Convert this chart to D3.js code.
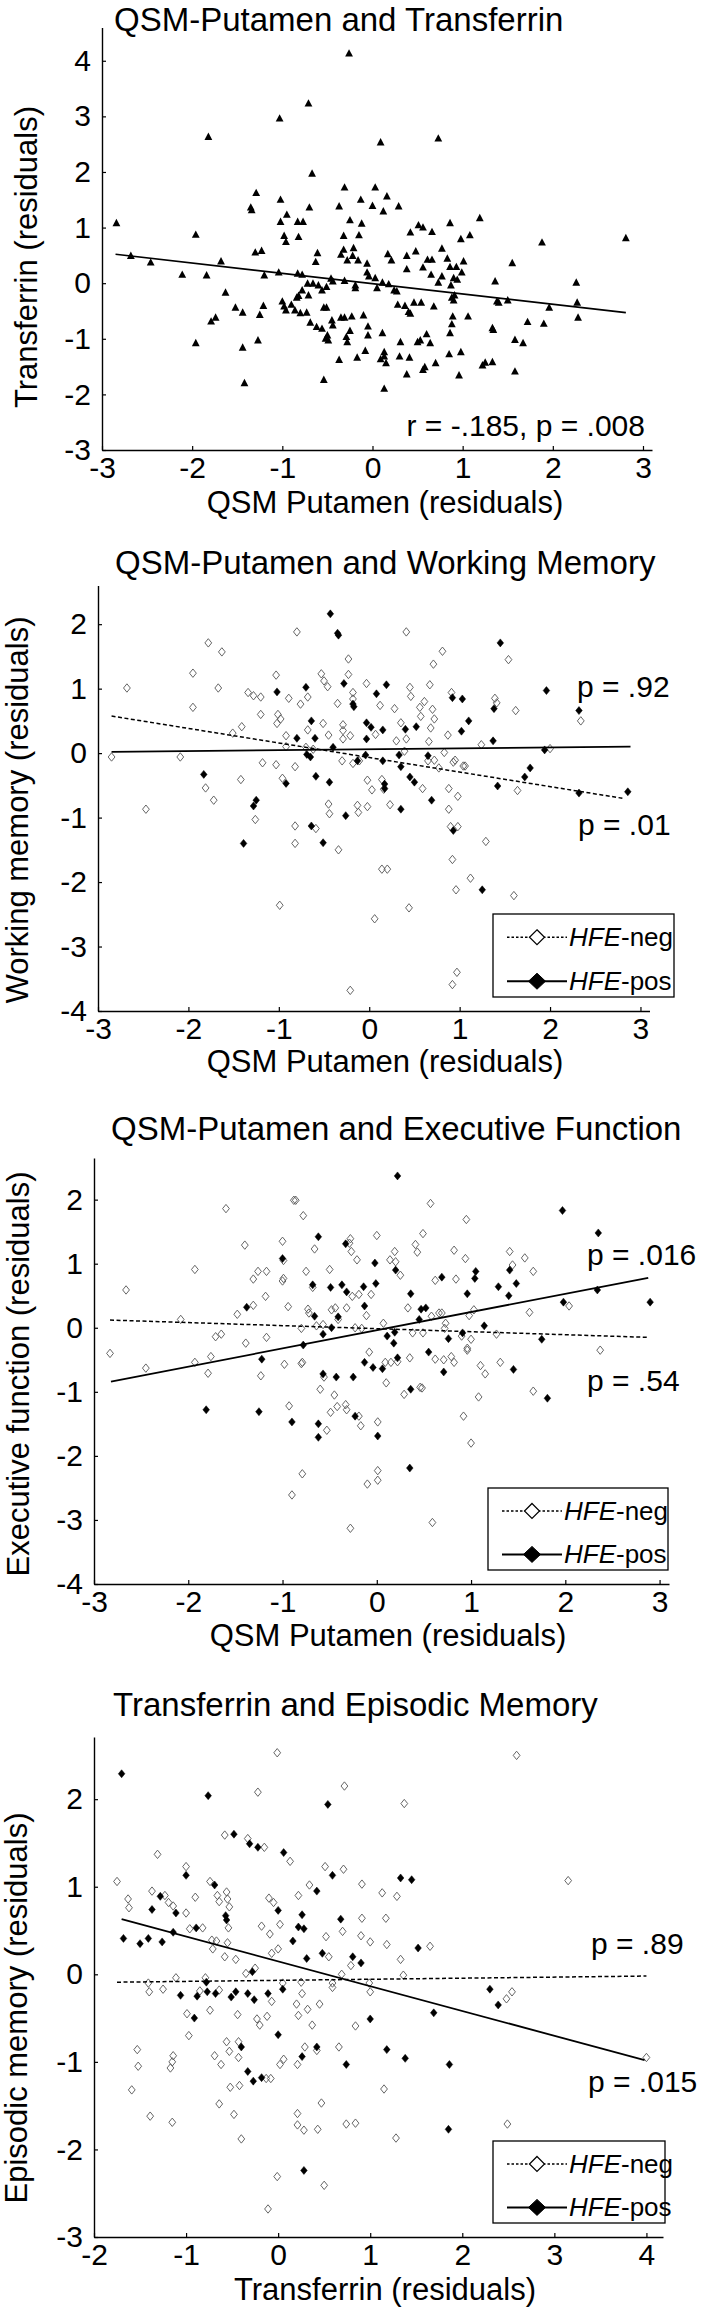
<!DOCTYPE html>
<html><head><meta charset="utf-8">
<script src="https://cdn.jsdelivr.net/npm/d3@7"></script>
<style>body{margin:0;background:#fff}svg{display:block}</style>
</head><body>
<script>
// ---------------- DATA ----------------
const xTicksQSM = [-3,-2,-1,0,1,2,3];
const xTicksTf = [-2,-1,0,1,2,3,4];
const yTicksP1 = [-3,-2,-1,0,1,2,3,4];
const yTicksP2 = [-4,-3,-2,-1,0,1,2];
const yTicksP3 = [-4,-3,-2,-1,0,1,2];
const yTicksP4 = [-3,-2,-1,0,1,2];

// Panel 1: QSM putamen vs transferrin
const tfPoints = [[-0.26,4.13],[-0.71,3.23],[-1.03,2.96],[-1.82,2.63],[0.73,2.60],[0.09,2.53],[-0.67,1.97],[-0.31,1.72],[0.03,1.72],[-1.29,1.62],[0.16,1.56],[-1.02,1.50],[-0.13,1.50],[-1.35,1.36],[-1.34,1.31],[-0.70,1.36],[-0.37,1.38],[0.00,1.39],[0.29,1.38],[0.12,1.29],[-0.95,1.23],[1.19,1.17],[-1.02,1.10],[-0.83,1.10],[-0.77,1.10],[-0.25,1.13],[-0.12,1.07],[0.86,1.08],[-2.84,1.08],[0.51,1.04],[0.56,1.00],[0.66,0.92],[0.42,0.91],[-1.96,0.87],[-0.98,0.85],[-0.96,0.74],[-0.82,0.83],[-0.32,0.85],[-0.15,0.86],[1.08,0.86],[0.98,0.79],[1.88,0.73],[2.81,0.81],[-0.21,0.63],[-0.32,0.60],[-1.23,0.58],[-1.30,0.55],[0.77,0.62],[-0.61,0.54],[-0.63,0.38],[0.48,0.57],[-0.35,0.51],[-0.28,0.41],[0.17,0.52],[0.38,0.49],[-0.22,0.49],[0.21,0.41],[0.61,0.42],[0.66,0.42],[0.83,0.44],[1.01,0.39],[-0.06,0.35],[-0.16,0.41],[-2.68,0.49],[-2.46,0.37],[-1.68,0.39],[1.55,0.36],[0.56,0.28],[0.86,0.29],[0.93,0.29],[0.38,0.25],[0.99,0.19],[-2.11,0.15],[-1.84,0.14],[-1.20,0.14],[-1.04,0.19],[-0.83,0.17],[-0.78,0.15],[-0.06,0.19],[-0.04,0.12],[0.65,0.15],[0.77,0.12],[0.90,0.09],[0.94,0.06],[-0.46,0.08],[-0.44,0.03],[-0.31,0.04],[0.03,0.09],[0.11,0.01],[0.18,-0.02],[0.73,0.01],[1.36,0.03],[2.26,0.01],[-0.72,-0.01],[-0.66,-0.01],[-0.60,-0.04],[-0.56,-0.13],[-0.51,-0.07],[-0.19,-0.04],[-0.19,-0.09],[0.05,-0.09],[0.87,-0.04],[0.24,-0.13],[0.27,-0.15],[-1.63,-0.17],[-0.78,-0.13],[-0.82,-0.23],[-0.84,-0.26],[-0.71,-0.22],[0.91,-0.22],[0.88,-0.26],[0.90,-0.31],[1.38,-0.33],[1.40,-0.35],[1.50,-0.31],[2.27,-0.35],[-1.00,-0.33],[-0.98,-0.42],[-0.90,-0.39],[-0.96,-0.49],[-0.86,-0.49],[-0.80,-0.54],[0.28,-0.39],[0.36,-0.41],[0.46,-0.35],[0.54,-0.35],[0.40,-0.52],[0.42,-0.55],[0.68,-0.42],[-1.21,-0.41],[-1.25,-0.57],[-1.52,-0.44],[-1.44,-0.53],[-0.73,-0.53],[-0.54,-0.44],[-0.51,-0.44],[-0.10,-0.58],[-0.35,-0.62],[-0.31,-0.62],[-0.23,-0.60],[1.96,-0.44],[1.06,-0.60],[2.28,-0.62],[-1.74,-0.62],[-1.79,-0.69],[-0.45,-0.67],[-0.44,-0.76],[1.72,-0.70],[1.90,-0.73],[-0.69,-0.71],[0.88,-0.74],[0.89,-0.60],[-0.62,-0.79],[-0.56,-0.82],[-0.05,-0.78],[-0.05,-0.94],[-0.25,-0.86],[0.11,-0.90],[1.33,-0.81],[1.34,-0.84],[0.60,-0.92],[0.86,-0.90],[-0.50,-0.94],[-0.52,-1.00],[-0.49,-1.03],[-0.29,-0.97],[-0.28,-1.06],[0.53,-1.03],[0.50,-1.06],[0.31,-1.06],[0.64,-1.08],[1.58,-1.02],[1.67,-1.08],[-1.96,-1.08],[-1.27,-1.03],[-1.44,-1.16],[-0.08,-1.22],[0.13,-1.24],[0.13,-1.32],[0.98,-1.24],[0.85,-1.28],[-0.17,-1.34],[0.30,-1.32],[0.41,-1.34],[0.09,-1.37],[0.15,-1.44],[-0.37,-1.38],[1.22,-1.48],[1.25,-1.43],[1.33,-1.42],[0.70,-1.44],[0.58,-1.51],[0.56,-1.56],[0.38,-1.64],[1.58,-1.59],[0.96,-1.66],[-0.54,-1.74],[-1.42,-1.80],[0.13,-1.90]];
const tfFit = [[-2.85,0.52],[2.81,-0.53]];

// Panel 2: QSM putamen vs working memory
const wmNeg = [[-2.85,-0.06],[-2.68,1.01],[-2.09,-0.06],[-1.95,1.24],[-1.95,0.71],[-1.78,1.71],[-1.63,1.57],[-1.67,1.01],[-1.81,-0.54],[-1.72,-0.73],[-2.47,-0.87],[-1.51,0.31],[-1.41,0.41],[-1.34,0.94],[-1.28,0.89],[-1.20,0.87],[-1.20,0.60],[-1.18,-0.15],[-1.42,-0.41],[-1.26,-1.03],[-1.03,1.21],[-1.01,0.60],[-1.02,0.46],[-1.03,-0.18],[-0.99,-2.36],[-0.98,0.53],[-0.92,0.27],[-0.92,0.10],[-0.96,-0.39],[-0.89,0.85],[-0.80,1.88],[-0.82,-0.21],[-0.82,-1.13],[-0.82,-1.40],[-0.76,0.76],[-0.68,0.87],[-0.68,0.36],[-0.70,0.09],[-0.62,0.06],[-0.59,-1.17],[-0.53,1.23],[-0.51,0.46],[-0.50,1.12],[-0.46,1.03],[-0.45,0.28],[-0.45,-0.79],[-0.44,-0.94],[-0.34,-1.50],[-0.35,0.77],[-0.29,0.44],[-0.29,0.35],[-0.29,0.22],[-0.30,-0.12],[-0.23,1.46],[-0.23,1.22],[-0.18,0.94],[-0.18,0.84],[-0.21,0.27],[-0.18,-0.16],[-0.13,-0.81],[-0.12,-0.92],[-0.11,-0.12],[-0.03,1.08],[-0.02,-0.42],[-0.02,-0.83],[0.03,-0.57],[0.07,0.29],[0.12,0.74],[0.14,-1.80],[0.20,-1.80],[0.14,-0.41],[0.16,-0.56],[0.23,-0.80],[0.28,0.69],[0.30,0.19],[0.35,0.47],[0.39,0.03],[0.41,1.88],[0.41,0.22],[0.44,-2.40],[0.45,1.02],[0.46,0.88],[0.56,0.71],[0.59,-0.55],[0.61,0.80],[0.57,0.57],[0.66,0.18],[0.68,0.39],[0.70,0.68],[0.65,-0.12],[0.72,-0.11],[0.67,1.06],[0.71,1.38],[0.72,0.53],[0.77,-0.23],[0.81,1.58],[0.83,0.01],[0.87,0.28],[0.88,-0.87],[0.95,-0.11],[0.98,-0.67],[0.88,-0.55],[0.90,-1.14],[0.98,-1.14],[0.91,0.94],[0.93,-0.14],[0.92,-1.65],[0.97,-3.40],[0.92,-3.59],[0.96,-2.12],[1.04,-0.20],[1.06,-0.20],[1.12,-1.94],[1.24,0.13],[1.29,-1.37],[1.39,0.85],[1.41,0.78],[1.54,1.45],[1.60,-2.21],[1.62,0.66],[1.64,-0.58],[2.34,0.50],[2.00,0.07],[-0.21,-3.68],[0.06,-2.57]];
const wmPos = [[-0.43,2.16],[-0.35,1.86],[-0.34,1.83],[1.45,1.71],[-0.28,1.08],[-0.70,1.02],[-1.02,0.95],[0.19,1.06],[0.08,0.92],[1.96,0.97],[-0.18,0.76],[-0.17,0.72],[0.92,0.86],[1.03,0.84],[-0.64,0.50],[-0.80,0.23],[-0.60,0.23],[0.02,0.40],[0.15,0.36],[0.52,0.41],[0.40,0.37],[1.10,0.50],[1.02,0.34],[1.38,0.69],[2.32,0.66],[-0.03,0.47],[-0.03,0.22],[1.37,0.19],[-0.40,0.09],[-0.69,-0.02],[-0.65,-0.06],[-0.04,-0.03],[0.33,-0.03],[0.65,-0.04],[1.94,0.05],[-0.13,-0.12],[0.15,-0.12],[0.35,-0.21],[1.78,-0.23],[1.72,-0.37],[-1.83,-0.33],[-0.92,-0.47],[-0.59,-0.36],[-0.44,-0.45],[0.17,-0.48],[0.17,-0.55],[0.45,-0.37],[0.50,-0.45],[1.42,-0.51],[2.32,-0.62],[2.86,-0.60],[-1.25,-0.73],[-1.28,-0.82],[0.69,-0.73],[-0.26,-0.97],[0.35,-0.87],[-0.64,-1.13],[-0.51,-1.39],[-1.39,-1.40],[0.93,-1.20],[1.25,-2.12]];
const wmNegFit = [[-2.85,0.575],[2.80,-0.70]];
const wmPosFit = [[-2.85,0.02],[2.89,0.10]];

// Panel 3: QSM putamen vs executive function
const efNeg = [[-2.83,-0.40],[-2.66,0.59],[-2.45,-0.63],[-2.08,0.13],[-1.93,0.91],[-1.93,-0.54],[-1.79,-0.71],[-1.76,-0.45],[-1.71,-0.14],[-1.65,-0.10],[-1.60,1.86],[-1.48,0.21],[-1.39,-0.24],[-1.40,1.29],[-1.31,0.35],[-1.31,0.76],[-1.26,0.88],[-1.23,-0.75],[-1.17,0.88],[-1.18,0.49],[-1.17,-0.15],[-1.00,1.35],[-1.00,0.73],[-0.99,0.77],[-0.99,1.05],[-0.98,-0.57],[-0.94,0.33],[-0.93,-1.22],[-0.90,-2.61],[-0.88,1.99],[-0.86,1.99],[-0.80,-0.01],[-0.79,-0.54],[-0.80,-0.56],[-0.78,1.75],[-0.75,0.88],[-0.73,0.29],[-0.72,0.23],[-0.79,-2.28],[-0.68,0.63],[-0.66,1.23],[-0.64,0.03],[-0.60,-0.96],[-0.56,-0.77],[-0.57,0.05],[-0.53,-1.60],[-0.49,-1.32],[-0.50,0.91],[-0.48,0.28],[-0.44,0.31],[-0.45,-1.05],[-0.42,-1.23],[-0.41,0.13],[-0.33,-1.20],[-0.32,-1.28],[-0.32,0.31],[-0.28,1.39],[-0.29,1.32],[-0.27,1.19],[-0.28,-3.13],[-0.26,0.49],[-0.23,0.00],[-0.19,0.52],[-0.21,1.06],[-0.19,-1.38],[-0.17,-1.53],[-0.16,-0.01],[-0.11,0.19],[-0.10,-2.44],[-0.08,-0.38],[-0.06,0.52],[0.00,1.44],[0.01,-1.47],[0.01,-2.23],[0.01,-2.38],[0.07,0.07],[0.09,-0.54],[0.10,-0.86],[0.14,1.06],[0.15,-0.54],[0.19,1.19],[0.20,1.03],[0.22,-0.53],[0.25,0.82],[0.29,-1.04],[0.33,0.31],[0.35,-0.47],[0.38,-0.08],[0.41,1.30],[0.43,1.18],[0.46,-0.93],[0.48,-0.94],[0.49,-0.08],[0.49,1.47],[0.57,1.94],[0.58,0.18],[0.59,-3.04],[0.62,0.74],[0.62,-0.49],[0.66,0.23],[0.69,0.23],[0.71,-0.50],[0.72,-0.01],[0.73,0.07],[0.79,-0.45],[0.82,-0.54],[0.82,1.21],[0.84,0.76],[0.90,-0.13],[0.92,-1.38],[0.94,1.08],[0.95,1.69],[0.96,-0.32],[0.96,-0.35],[0.98,0.19],[1.00,-1.80],[1.00,-0.18],[1.03,0.28],[1.08,-1.08],[1.10,-0.59],[1.15,-0.72],[1.27,-0.10],[1.31,-0.54],[1.41,1.19],[1.44,0.98],[1.57,1.09],[1.62,0.24],[1.66,0.88],[1.66,-0.99],[2.04,0.34],[2.37,-0.35]];
const efPos = [[0.22,2.37],[1.97,1.83],[2.35,1.48],[-0.62,1.42],[-0.33,1.31],[-1.00,1.08],[-0.02,1.01],[0.20,0.90],[0.69,0.79],[1.05,0.88],[1.04,0.77],[1.41,0.90],[-0.68,0.67],[-0.49,0.63],[-0.37,0.67],[-0.14,0.64],[-0.01,0.69],[1.29,0.64],[1.48,0.69],[-0.32,0.56],[0.36,0.53],[1.40,0.50],[0.96,0.53],[2.34,0.59],[-1.38,0.32],[-0.13,0.34],[1.98,0.40],[2.90,0.40],[-0.41,0.17],[-0.66,0.18],[0.47,0.29],[0.52,0.31],[0.45,0.13],[1.14,0.03],[-0.48,0.00],[-0.57,-0.10],[-0.78,-0.27],[0.11,-0.13],[0.19,-0.07],[0.18,-0.24],[0.76,-0.17],[0.91,-0.08],[1.75,-0.18],[-1.22,-0.49],[-0.13,-0.54],[0.55,-0.38],[-0.04,-0.62],[0.06,-0.64],[0.22,-0.47],[-0.57,-0.72],[-0.43,-0.77],[-0.25,-0.77],[1.45,-0.65],[0.71,-0.69],[0.36,-0.96],[1.81,-1.10],[-1.81,-1.28],[-1.25,-1.31],[-0.90,-1.47],[-0.62,-1.50],[-0.62,-1.71],[-0.23,-1.38],[0.01,-1.69],[0.35,-2.19]];
const efNegFit = [[-2.83,0.12],[2.88,-0.15]];
const efPosFit = [[-2.82,-0.84],[2.88,0.78]];

// Panel 4: transferrin vs episodic memory
const emNeg = [[-1.75,1.06],[-1.63,0.86],[-1.62,0.76],[-1.59,-1.32],[-1.53,-0.86],[-1.52,-1.05],[-1.41,-0.10],[-1.40,-0.20],[-1.39,-1.62],[-1.37,0.95],[-1.31,1.37],[-1.25,-0.17],[-1.23,0.90],[-1.19,0.82],[-1.17,-1.07],[-1.15,-1.00],[-1.14,-0.93],[-1.15,-1.69],[-1.14,0.78],[-1.11,-0.04],[-1.00,1.23],[-1.00,0.70],[-0.99,-0.45],[-0.97,-0.70],[-0.96,0.52],[-0.90,0.88],[-0.85,-0.19],[-0.82,0.53],[-0.79,-0.04],[-0.74,1.06],[-0.74,-0.41],[-0.72,0.39],[-0.71,0.29],[-0.69,-0.93],[-0.67,0.38],[-0.66,0.90],[-0.64,0.83],[-0.64,-0.18],[-0.64,-1.48],[-0.62,-1.03],[-0.58,1.59],[-0.58,0.20],[-0.56,0.94],[-0.55,0.86],[-0.53,0.77],[-0.54,0.53],[-0.56,-0.77],[-0.55,0.36],[-0.52,-1.29],[-0.53,-0.88],[-0.48,-1.60],[-0.46,0.17],[-0.44,-0.46],[-0.43,-0.95],[-0.43,-0.77],[-0.42,-1.27],[-0.40,-1.88],[-0.35,0.01],[-0.33,1.55],[-0.25,0.07],[-0.22,2.08],[-0.23,-0.51],[-0.20,-0.58],[-0.18,0.55],[-0.15,1.45],[-0.13,-1.19],[-0.12,-0.48],[-0.11,-2.68],[-0.10,0.87],[-0.09,0.46],[-0.08,-1.19],[-0.07,-0.31],[-0.05,0.82],[-0.07,0.24],[-0.01,2.53],[-0.01,-2.31],[0.00,0.29],[0.02,0.57],[0.05,-0.10],[0.02,-1.03],[0.06,-0.97],[0.13,1.29],[0.20,-0.34],[0.21,-1.03],[0.21,-1.59],[0.21,-1.72],[0.22,0.90],[0.22,-0.47],[0.25,-0.09],[0.26,-0.22],[0.28,-1.78],[0.29,-0.83],[0.32,-0.40],[0.37,-0.58],[0.34,1.02],[0.42,-0.87],[0.43,-1.77],[0.45,-0.34],[0.47,-1.47],[0.50,-2.41],[0.51,1.23],[0.52,0.43],[0.55,0.20],[0.59,-0.10],[0.59,-0.15],[0.66,-0.83],[0.69,0.00],[0.70,0.49],[0.71,1.20],[0.72,2.15],[0.74,-1.71],[0.79,0.10],[0.84,-1.70],[0.84,-0.59],[0.90,0.44],[0.91,0.64],[0.91,1.03],[0.99,-0.10],[1.00,-0.20],[1.00,0.37],[1.13,0.93],[1.15,-1.31],[1.17,0.64],[1.18,0.34],[1.28,-1.87],[1.29,0.89],[1.33,0.17],[1.36,-0.01],[1.37,1.95],[1.65,0.32],[2.49,-1.71],[2.48,-0.28],[2.54,-0.20],[2.59,2.50],[3.15,1.07],[4.00,-0.95]];
const emPos = [[-1.70,2.29],[-1.68,0.41],[-1.50,0.35],[-1.41,0.41],[-1.37,0.74],[-1.28,0.89],[-1.26,0.37],[-1.14,0.48],[-1.11,0.70],[-1.06,-0.24],[-1.00,1.13],[-0.91,-0.50],[-0.89,0.53],[-0.88,-0.25],[-0.78,-0.09],[-0.77,-0.20],[-0.76,2.04],[-0.69,1.02],[-0.68,-0.22],[-0.57,0.67],[-0.56,0.62],[-0.51,-0.26],[-0.48,1.60],[-0.46,-0.20],[-0.40,-0.83],[-0.33,-1.11],[-0.33,-0.22],[-0.31,1.49],[-0.28,0.03],[-0.27,-1.22],[-0.26,-0.29],[-0.22,1.45],[-0.18,-1.18],[-0.11,-0.22],[0.00,0.73],[0.00,-0.69],[0.05,-0.17],[0.06,1.39],[0.16,0.38],[0.22,0.54],[0.26,0.68],[0.28,0.52],[0.31,0.18],[0.26,-0.94],[0.28,-2.24],[0.42,0.95],[0.42,-0.83],[0.48,0.24],[0.54,1.94],[0.59,1.13],[0.68,0.63],[0.74,-1.03],[0.81,0.20],[0.90,0.13],[1.00,-0.51],[1.18,-0.86],[1.33,1.10],[1.38,-0.96],[1.45,1.08],[1.52,0.30],[1.69,-0.44],[1.86,-1.03],[1.85,-1.77],[2.30,-0.17],[2.39,-0.35]];
const emNegFit = [[-1.75,-0.09],[4.00,-0.02]];
const emPosFit = [[-1.70,0.63],[3.98,-0.98]];

const legendLabels = [["HFE","-neg"],["HFE","-pos"]];

// ---------------- DRAWING ----------------
const FONT = '"Liberation Sans", Arial, Helvetica, sans-serif';
const svg = d3.select('body').append('svg')
  .attr('width',709).attr('height',2318)
  .style('font-family',FONT).style('background','#fff');

const triPath = 'M0,-4.4L3.9,3L-3.9,3Z';
const openDia = 'M0,-4.2L3.4,0L0,4.2L-3.4,0Z';
const fillDia = 'M0,-4L3.3,0L0,4L-3.3,0Z';

function drawPanel(c){
  const x = d3.scaleLinear().domain(c.xDomain).range(c.xRange);
  const y = d3.scaleLinear().domain(c.yDomain).range(c.yRange);
  const g = svg.append('g');

  g.append('text').attr('x',c.title.x).attr('y',c.title.y)
    .attr('font-size',33).attr('fill','#000').text(c.title.text);

  const ax = g.append('g').attr('transform',`translate(0,${c.yRange[0]})`)
    .call(d3.axisBottom(x).tickValues(c.xTicks).tickSizeInner(-4).tickSizeOuter(0).tickPadding(7).tickFormat(d=>String(d)));
  const ay = g.append('g').attr('transform',`translate(${c.xRange[0]},0)`)
    .call(d3.axisLeft(y).tickValues(c.yTicks).tickSizeInner(-4).tickSizeOuter(0).tickPadding(11).tickFormat(d=>String(d)));
  [ax,ay].forEach(a=>{
    a.attr('font-size',30).attr('font-family',FONT);
    a.select('.domain').attr('stroke','#000').attr('stroke-width',1.4);
    a.selectAll('.tick line').attr('stroke','#000').attr('stroke-width',1.2);
    a.selectAll('.tick text').attr('fill','#000');
  });

  g.append('text').attr('x',c.xLabel.x).attr('y',c.xLabel.y).attr('text-anchor','middle')
    .attr('font-size',31).attr('fill','#000').text(c.xLabel.text);
  g.append('text').attr('transform',`translate(${c.yLabel.x},${c.yLabel.y}) rotate(-90)`)
    .attr('text-anchor','middle').attr('font-size',31).attr('fill','#000').text(c.yLabel.text);

  (c.series||[]).forEach(s=>{
    g.append('g').selectAll('path').data(s.data).join('path')
      .attr('transform',d=>`translate(${x(d[0])},${y(d[1])})`)
      .attr('d',s.shape)
      .attr('fill',s.fill).attr('stroke',s.stroke).attr('stroke-width',s.sw);
  });
  (c.fits||[]).forEach(f=>{
    g.append('line').attr('x1',x(f.pts[0][0])).attr('y1',y(f.pts[0][1]))
      .attr('x2',x(f.pts[1][0])).attr('y2',y(f.pts[1][1]))
      .attr('stroke','#000').attr('stroke-width',f.sw).attr('stroke-dasharray',f.dash||null);
  });
  (c.notes||[]).forEach(n=>{
    g.append('text').attr('x',n.x).attr('y',n.y).attr('text-anchor',n.anchor||'start')
      .attr('font-size',30).attr('fill','#000').text(n.text);
  });
  if(c.legend){
    const L = c.legend;
    const lg = g.append('g').attr('transform',`translate(${L.x},${L.y})`);
    lg.append('rect').attr('width',L.w).attr('height',L.h).attr('fill','#fff')
      .attr('stroke','#000').attr('stroke-width',1.3);
    const rows = [L.h*0.28, L.h*0.81];
    legendLabels.forEach((lab,i)=>{
      const ry = rows[i];
      lg.append('line').attr('x1',14).attr('x2',74).attr('y1',ry).attr('y2',ry)
        .attr('stroke','#000').attr('stroke-width',i?2:1.6).attr('stroke-dasharray',i?null:'2.5,2');
      lg.append('path').attr('transform',`translate(44,${ry})`)
        .attr('d',i?'M0,-8L8.5,0L0,8L-8.5,0Z':'M0,-7.5L7.5,0L0,7.5L-7.5,0Z')
        .attr('fill',i?'#000':'#fff').attr('stroke','#000').attr('stroke-width',i?1:1.2);
      const t = lg.append('text').attr('x',76).attr('y',ry+9).attr('font-size',26).attr('fill','#000');
      t.append('tspan').attr('font-style','italic').text(lab[0]);
      t.append('tspan').text(lab[1]);
    });
  }
}

const negSeries = d => ({data:d, shape:openDia, fill:'none', stroke:'#555', sw:0.9});
const posSeries = d => ({data:d, shape:fillDia, fill:'#000', stroke:'#000', sw:0.5});

drawPanel({
  xDomain:[-3,3.1], xRange:[102,652], yDomain:[-3,4.6], yRange:[450,27.4],
  xTicks:xTicksQSM, yTicks:yTicksP1,
  title:{x:114,y:31,text:'QSM-Putamen and Transferrin'},
  xLabel:{x:385,y:513,text:'QSM Putamen (residuals)'},
  yLabel:{x:37,y:257,text:'Transferrin (residuals)'},
  series:[{data:tfPoints, shape:triPath, fill:'#000', stroke:'none', sw:0}],
  fits:[{pts:tfFit, sw:1.6}],
  notes:[{x:645,y:436,anchor:'end',text:'r = -.185, p = .008'}]
});

drawPanel({
  xDomain:[-3,3.1], xRange:[98,649.5], yDomain:[-4,2.6], yRange:[1011,585.5],
  xTicks:xTicksQSM, yTicks:yTicksP2,
  title:{x:115,y:574,text:'QSM-Putamen and Working Memory'},
  xLabel:{x:385,y:1072,text:'QSM Putamen (residuals)'},
  yLabel:{x:28,y:810,text:'Working memory (residuals)'},
  series:[negSeries(wmNeg), posSeries(wmPos)],
  fits:[{pts:wmNegFit, sw:1.5, dash:'4,2.5'},{pts:wmPosFit, sw:1.8}],
  notes:[{x:577,y:697,text:'p = .92'},{x:578,y:835,text:'p = .01'}],
  legend:{x:493,y:914,w:181,h:83}
});

drawPanel({
  xDomain:[-3,3.1], xRange:[94,669], yDomain:[-4,2.65], yRange:[1584,1158],
  xTicks:xTicksQSM, yTicks:yTicksP3,
  title:{x:111,y:1140,text:'QSM-Putamen and Executive Function'},
  xLabel:{x:388,y:1646,text:'QSM Putamen (residuals)'},
  yLabel:{x:29,y:1374,text:'Executive function (residuals)'},
  series:[negSeries(efNeg), posSeries(efPos)],
  fits:[{pts:efNegFit, sw:1.5, dash:'4,2.5'},{pts:efPosFit, sw:1.8}],
  notes:[{x:587,y:1265,text:'p = .016'},{x:587,y:1391,text:'p = .54'}],
  legend:{x:488,y:1488,w:180,h:82}
});

drawPanel({
  xDomain:[-2,4.18], xRange:[94,663], yDomain:[-3,2.71], yRange:[2237,1737],
  xTicks:xTicksTf, yTicks:yTicksP4,
  title:{x:113,y:1716,text:'Transferrin and Episodic Memory'},
  xLabel:{x:385,y:2300,text:'Transferrin (residuals)'},
  yLabel:{x:27,y:2008,text:'Episodic memory (residuals)'},
  series:[negSeries(emNeg), posSeries(emPos)],
  fits:[{pts:emNegFit, sw:1.5, dash:'4,2.5'},{pts:emPosFit, sw:1.8}],
  notes:[{x:591,y:1954,text:'p = .89'},{x:588,y:2092,text:'p = .015'}],
  legend:{x:493,y:2141,w:172,h:82}
});
</script>
</body></html>
